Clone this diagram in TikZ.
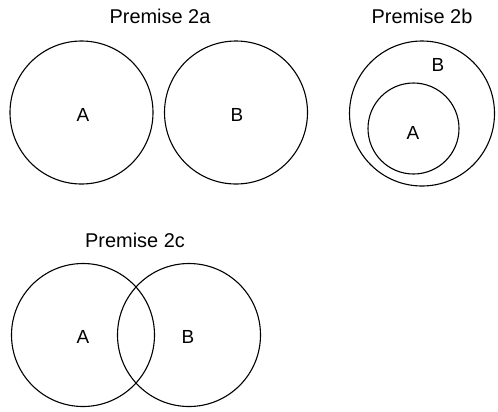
\documentclass[tikz,border=0pt]{standalone}
\usepackage{fontspec}
\setmainfont{Liberation Sans}
\begin{document}
\begin{tikzpicture}[x=1bp,y=-1bp,
  set/.style={draw=black,line width=1.1bp,circle,inner sep=0pt},
  lbl/.style={inner sep=0pt,font=\fontsize{19}{22}\selectfont},
  ttl/.style={inner sep=0pt,font=\fontsize{20}{24}\selectfont}]
\useasboundingbox (0,0) rectangle (498,411);
% Premise 2a
\node[ttl] (t2a) at (160,16) {Premise 2a};
\node[set,minimum size=143bp] (a2a) at (81.5,112.5) {};
\node[set,minimum size=143bp] (b2a) at (236,112.5) {};
\node[lbl] (la2a) at (83,115) {A};
\node[lbl] (lb2a) at (237,115) {B};
% Premise 2b
\node[ttl] (t2b) at (422,16) {Premise 2b};
\node[set,minimum size=145bp] (b2b) at (422,113.5) {};
\node[set,minimum size=91bp] (a2b) at (413.5,128.5) {};
\node[lbl] (lb2b) at (438,65) {B};
\node[lbl] (la2b) at (413,133) {A};
% Premise 2c
\node[ttl] (t2c) at (135,240) {Premise 2c};
\node[set,minimum size=143bp] (a2c) at (83,335) {};
\node[set,minimum size=143bp] (b2c) at (189,335) {};
\node[lbl] (la2c) at (83,337) {A};
\node[lbl] (lb2c) at (188,337) {B};
\end{tikzpicture}
\end{document}
